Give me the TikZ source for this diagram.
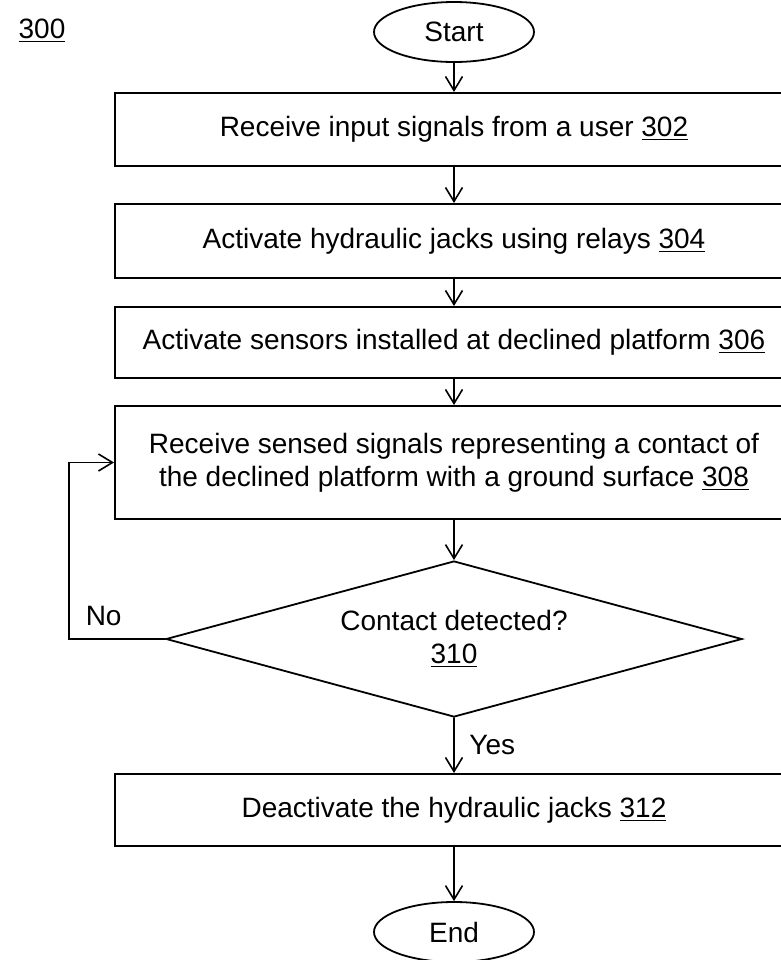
\documentclass[tikz,border=0pt]{standalone}
\usepackage{fontspec}
\setmainfont{Liberation Sans}
\usetikzlibrary{shapes.geometric,arrows.meta}

\begin{document}
\begin{tikzpicture}[x=0.5pt,y=-0.5pt,line cap=round]
  \tikzset{
    every node/.style={font=\fontsize{14}{16.5}\selectfont},
    stepbox/.style={draw,line width=1pt,minimum width=339pt,align=center,inner sep=0pt},
    term/.style={draw,ellipse,line width=0.9pt,minimum width=80pt,minimum height=30pt,inner sep=0pt},
    decision/.style={draw,diamond,aspect=3.69,line width=0.9pt,minimum width=288pt,minimum height=78pt,align=center,inner sep=0pt},
    flow/.style={line width=0.8pt,-{Straight Barb[length=7pt,width=8.5pt]}}
  }
  \useasboundingbox (0,0) rectangle (781,960);
  \clip (0,0) rectangle (781,960);

  % Figure number
  \node (fig) at (42,31) {\underline{300}};

  % Start / end terminals
  \node[term] (st) at (454,32) {Start};
  \node[term] (en) at (454,932) {End};

  % Process steps
  \node[stepbox,minimum height=36.5pt] (recv) at (454,129.5) {Receive input signals from a user \underline{302}};
  \node[stepbox,minimum height=37pt] (jacks) at (454,241) {Activate hydraulic jacks using relays \underline{304}};
  \node[stepbox,minimum height=35.5pt] (sens) at (454,342.5) {Activate sensors installed at declined platform \underline{306}};
  \node[stepbox,minimum height=56.5pt] (sensed) at (454,462.5)
    {Receive sensed signals representing a contact of\\ the declined platform with a ground surface \underline{308}};
  \node[decision] (dec) at (454,639) {Contact detected?\\ \underline{310}};
  \node[stepbox,minimum height=36pt] (off) at (454,810) {Deactivate the hydraulic jacks \underline{312}};

  % Main flow
  \draw[flow] (st) -- (recv);
  \draw[flow] (recv) -- (jacks);
  \draw[flow] (jacks) -- (sens);
  \draw[flow] (sens) -- (sensed);
  \draw[flow] (sensed) -- (dec);
  \draw[flow] (dec) -- node[right=4pt] (yes) {Yes} (off);
  \draw[flow] (off) -- (en);

  % Loop back when no contact
  \draw[flow] (dec.west) -- ++(-96,0) node[pos=0.64,above=3pt] (no) {No} |- (sensed.west);
\end{tikzpicture}
\end{document}
